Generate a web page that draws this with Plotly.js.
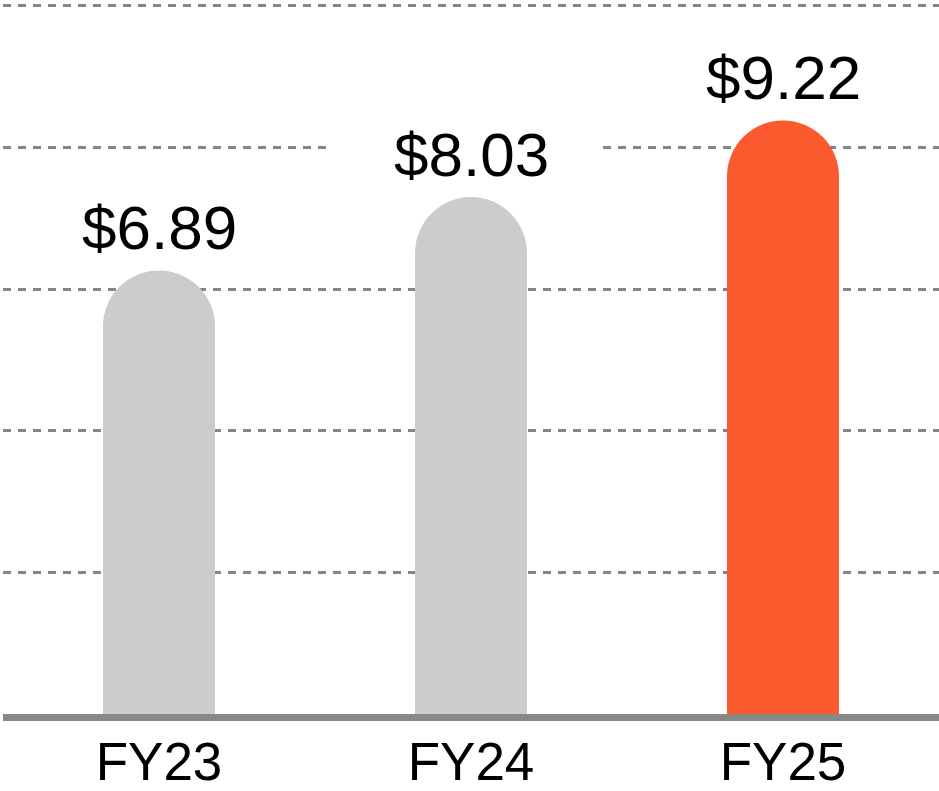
<!DOCTYPE html>
<html><head><meta charset="utf-8">
<script src="https://cdn.plot.ly/plotly-3.0.1.min.js"></script>
<style>html,body{margin:0;padding:0;background:#fff;overflow:hidden}</style>
</head><body><div id="chart" style="width:939px;height:791px"></div>
<script>
const categories = ["FY23", "FY24", "FY25"];
const values = [6.89, 8.03, 9.22];
const valueLabels = ["$6.89", "$8.03", "$9.22"];
const barColors = ["#CCCCCC", "#CCCCCC", "#FB5A2F"];
const gridTicks = [2.2, 4.4, 6.6, 8.8, 11];

const trace = {
  type: "bar",
  x: categories,
  y: values,
  marker: { color: barColors, line: { width: 0 } },
  hoverinfo: "skip"
};

const labelFont = { family: "Liberation Sans, Arial, sans-serif", size: 62, color: "#000000" };

// white backing boxes that interrupt the gridlines behind the value labels
const boxes = categories.map((c, i) => ({
  x: c, y: values[i], xref: "x", yref: "y",
  text: " ", showarrow: false,
  xanchor: "center", yanchor: "bottom", xshift: -8, yshift: 6,
  width: 260, height: 62, borderpad: 4, bgcolor: "#ffffff",
  font: labelFont
}));

const labels = categories.map((c, i) => ({
  x: c, y: values[i], xref: "x", yref: "y",
  text: valueLabels[i], showarrow: false,
  xanchor: "center", yanchor: "bottom", yshift: 6,
  font: labelFont
}));

const layout = {
  width: 939, height: 791,
  margin: { l: 3, r: 0, t: 2, b: 77 },
  paper_bgcolor: "#ffffff", plot_bgcolor: "#ffffff",
  showlegend: false,
  bargap: 0.641,
  barcornerradius: "50%",
  xaxis: {
    type: "category", range: [-0.5, 2.5],
    showgrid: false, zeroline: false,
    showline: true, linecolor: "#888888", linewidth: 7,
    ticks: "", ticklabelstandoff: -5,
    tickfont: { family: "Liberation Sans, Arial, sans-serif", size: 53, color: "#000000" }
  },
  yaxis: {
    range: [0, 11.06], tickmode: "array", tickvals: gridTicks,
    showticklabels: false, ticks: "",
    showgrid: true, gridcolor: "#858585", gridwidth: 3, griddash: "8px,7px",
    zeroline: false, showline: false
  },
  annotations: boxes.concat(labels)
};

Plotly.newPlot("chart", [trace], layout, { displayModeBar: false, staticPlot: true });
</script></body></html>
